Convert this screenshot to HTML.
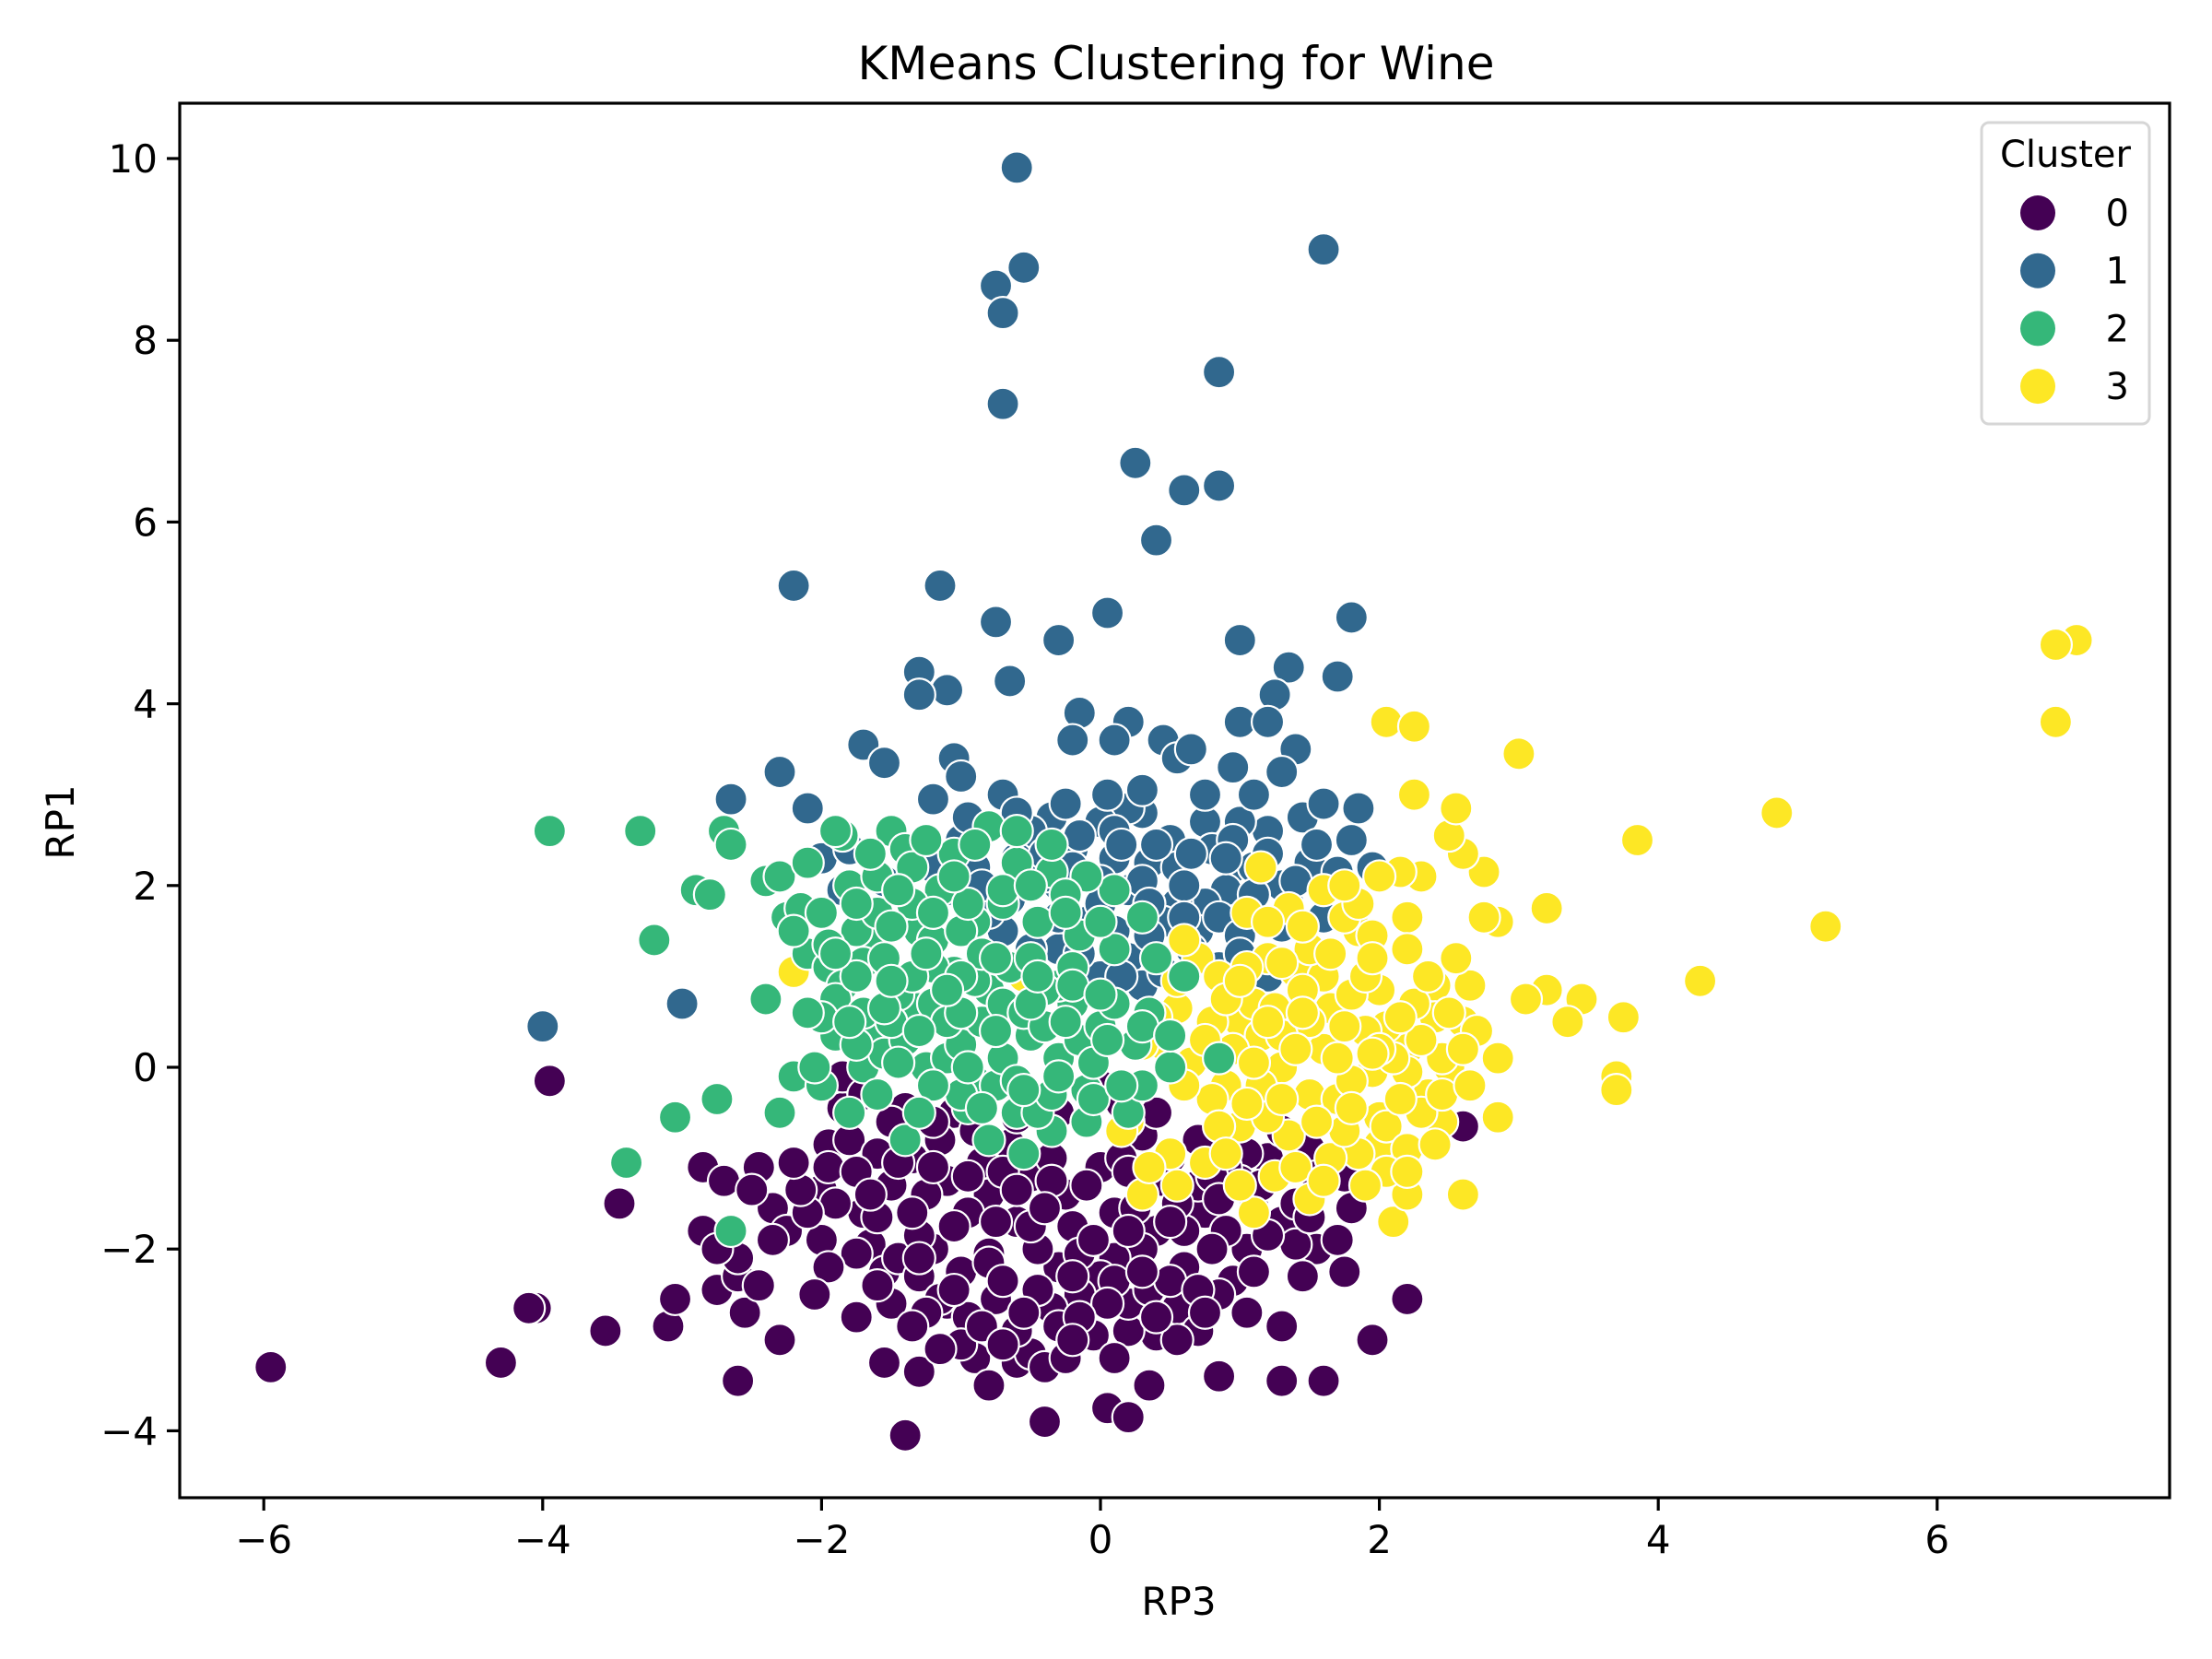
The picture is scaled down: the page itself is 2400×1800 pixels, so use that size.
<!DOCTYPE html>
<html><head><meta charset="utf-8"><style>
html,body{margin:0;padding:0;background:#fff;}
svg{display:block;font-family:"DejaVu Sans","Liberation Sans",sans-serif;}
</style></head><body>
<svg id="chart" width="2400" height="1800" viewBox="0 0 2400 1800">
<rect x="0" y="0" width="2400" height="1800" fill="#fff"/>
<text x="1276" y="86" font-size="50" text-anchor="middle">KMeans Clustering for Wine</text>
<g id="marks"></g>
<g id="axes"></g>
<text x="1279" y="1752" font-size="42" text-anchor="middle">RP3</text>
<text x="0" y="0" font-size="42" text-anchor="middle" transform="translate(80,892) rotate(-90)">RP1</text>
<g id="legend"></g>
</svg>
<script>
const xTicks=[-6,-4,-2,0,2,4,6];
const yTicks=[-4,-2,0,2,4,6,8,10];
const clusterNames=["0","1","2","3"];
const clusterColors=["#440154","#31688e","#35b779","#fde725"];
const cluster0=[[-5.95,-3.3],[-4.3,-3.25],[-4.05,-2.65],[-4.1,-2.65],[-3.55,-2.9],[-3.45,-1.5],[-3.95,-0.15],[-3.1,-2.85],[-3.05,-2.55],[-2.75,-2.45],[-2.6,-3.45],[-2.55,-2.7],[-2.3,-3.0],[-2.6,-2.3],[-2.6,-2.1],[-2.85,-1.8],[-2.85,-1.1],[-2.7,-1.25],[-2.45,-1.1],[-2.35,-1.55],[-2.25,-1.8],[-2.0,-1.9],[-2.0,-1.35],[-1.95,-0.85],[-1.85,-0.45],[-1.85,-0.1],[-1.8,-0.8],[-1.7,-1.6],[-1.65,-1.95],[-1.55,-2.25],[-1.55,-3.25],[-1.3,-3.35],[-1.4,-4.05],[-1.45,-2.1],[-1.3,-2.3],[-1.2,-2.0],[-1.1,-2.6],[-1.15,-2.55],[-0.95,-2.75],[-0.9,-3.2],[-0.8,-3.5],[-0.6,-3.25],[-0.5,-3.15],[-0.4,-3.3],[-0.25,-3.2],[-0.4,-3.9],[0.05,-3.75],[0.2,-3.85],[0.35,-3.5],[0.4,-2.95],[0.2,-2.9],[0.2,-2.6],[0.55,-2.65],[0.85,-3.4],[1.3,-3.45],[1.6,-3.45],[1.95,-3.0],[2.2,-2.55],[1.3,-2.85],[0.95,-2.35],[0.85,-2.5],[0.7,-2.9],[1.75,-2.25],[1.05,-2.0],[1.3,-1.7],[1.55,-2.0],[1.8,-1.55],[1.75,-1.2],[1.4,-1.5],[1.2,-1.0],[1.05,-0.95],[1.0,-1.25],[0.9,-1.1],[0.75,-1.6],[0.6,-1.8],[0.4,-1.8],[0.6,-2.2],[0.3,-2.0],[0.1,-2.1],[0.0,-2.3],[-0.15,-2.5],[-0.3,-2.2],[-0.45,-2.0],[-0.6,-1.7],[-0.8,-1.4],[-0.95,-1.6],[-1.1,-1.25],[-1.25,-1.4],[-1.35,-1.0],[-1.5,-1.3],[-1.6,-0.95],[-1.4,-0.45],[-1.05,-0.5],[-0.85,-1.05],[-0.5,-1.2],[-0.25,-1.4],[0.0,-1.1],[0.3,-1.3],[0.5,-1.0],[0.0,-0.2],[-0.1,-0.6],[0.3,-0.75],[0.45,-1.25],[-0.2,-1.75],[-0.5,-1.75],[-0.8,-2.05],[-1.0,-2.25],[-1.3,-1.85],[-1.6,-1.65],[-1.9,-1.5],[-2.1,-1.6],[-1.75,-2.05],[-1.25,-2.7],[-0.75,-2.55],[-0.35,-2.65],[-0.05,-2.95],[0.35,-2.45],[0.5,-2.35],[0.9,-1.8],[1.1,-1.55],[1.5,-0.9],[1.7,-1.9],[2.6,-0.65],[-0.6,-2.9],[-0.8,-2.15],[0.1,-1.6],[-0.65,-0.85],[-1.15,-0.8],[0.15,-1.0],[0.7,-1.3],[-0.35,-1.0],[-1.5,-2.6],[-0.15,-2.05],[0.25,-1.55],[-0.7,-1.15],[-1.95,-1.1],[-2.15,-1.35],[-1.0,-3.05],[-0.3,-2.85],[0.55,-3.0],[0.1,-2.35],[1.4,-1.95],[0.8,-1.2],
[-1.7,-0.3],[-1.5,-0.6],[-1.2,-0.6],[-0.9,-0.7],[-0.6,-0.55],[-0.3,-0.5],[0.15,-0.4],[0.4,-0.5],[0.7,-0.8],[1.3,-0.7],[-1.75,-1.15],[-1.45,-1.05],[-1.2,-1.1],[-0.95,-1.2],[-0.6,-1.35],[-0.35,-1.25],[-0.1,-1.3],[0.2,-1.15],[0.55,-1.5],[0.85,-1.45],[1.15,-1.3],[1.55,-1.2],[-2.2,-1.05],[-1.65,-1.4],[-1.35,-1.6],[-1.05,-1.75],[-0.75,-1.7],[-0.4,-1.55],[-0.05,-1.9],[0.2,-1.8],[0.5,-1.7],[0.8,-2.0],[1.2,-1.85],[1.5,-1.65],[-2.35,-1.9],[-1.95,-2.2],[-1.6,-2.4],[-1.3,-2.1],[-1.05,-2.45],[-0.7,-2.35],[-0.45,-2.45],[-0.2,-2.3],[0.05,-2.6],[0.3,-2.25],[0.7,-2.45],[1.1,-2.25],[1.45,-2.3],[-1.75,-2.75],[-1.35,-2.85],[-0.85,-2.85],[-0.55,-2.7],[-0.15,-2.75],[0.4,-2.75],[0.75,-2.7],[1.05,-2.7],[-0.7,-3.05],[-0.2,-3.0],[0.1,-3.2],[-1.15,-3.1],[-2.45,-2.4],[-2.75,-2.0],[-2.5,-1.35],[-2.05,-2.5]];
const cluster1=[[-0.6,9.9],[-0.55,8.8],[-0.75,8.6],[-0.7,8.3],[1.6,9.0],[0.85,7.65],[-0.7,7.3],[0.25,6.65],[0.6,6.35],[0.85,6.4],[0.4,5.8],[-2.2,5.3],[-1.15,5.3],[0.05,5.0],[1.8,4.95],[-0.75,4.9],[-0.3,4.7],[1.0,4.7],[1.35,4.4],[1.7,4.3],[-1.3,4.35],[-1.1,4.15],[-1.3,4.1],[-0.65,4.25],[1.25,4.1],[-0.15,3.9],[0.2,3.8],[0.1,3.6],[-0.2,3.6],[0.45,3.6],[0.55,3.4],[1.0,3.8],[1.2,3.8],[1.4,3.5],[1.3,3.25],[0.95,3.3],[0.65,3.5],[-1.7,3.55],[-1.55,3.35],[-1.05,3.4],[-1.0,3.2],[-0.7,3.0],[-1.2,2.95],[-2.65,2.95],[-2.3,3.25],[-2.1,2.85],[-2.0,2.3],[-1.8,2.4],[-1.85,1.95],[-4.0,0.45],[-3.0,0.7],[1.85,2.85],[1.95,2.2],[1.8,2.5],[1.5,2.25],[1.45,2.75],[1.2,2.6],[1.0,2.7],[0.75,2.7],[0.5,2.5],[0.3,2.8],[0.2,2.85],[0.0,2.7],[-0.35,2.75],[-0.5,2.6],[-0.2,2.4],[0.1,2.3],[0.35,2.25],[0.55,2.2],[0.95,2.2],[1.1,2.2],[0.9,1.95],[0.75,1.8],[0.55,1.8],[0.2,1.95],[0.0,2.05],[-0.3,2.0],[-0.65,1.85],[-0.1,1.6],[0.2,1.2],[0.0,1.0],[-0.7,1.5],[-0.3,1.3],[0.45,1.6],[0.7,1.5],[0.85,1.1],[1.35,1.8],[1.6,1.65],[1.2,1.0],[-1.3,2.3],[-1.0,2.5],[-0.9,2.2],[-1.55,2.05],[-1.2,2.2],[-0.2,2.2],[0.3,2.05],[0.6,2.0],[1.3,2.0],[0.8,2.4],[0.1,2.6],[0.95,2.5],[-0.6,2.3],[-0.4,2.1],[-0.8,1.7],[-0.5,1.3],[0.3,0.9],
[-0.4,2.35],[-0.15,2.55],[0.15,2.45],[0.4,2.45],[0.65,2.35],[0.9,2.3],[1.2,2.35],[1.55,2.45],[1.7,2.15],[1.4,2.05],[1.1,1.9],[0.85,1.65],[0.6,1.65],[0.35,1.45],[0.1,1.5],[-0.15,1.25],[0.0,1.8],[0.35,1.8],[0.65,1.3],[1.0,1.45],[1.3,1.55],[-0.6,2.05],[-0.85,2.0],[-1.1,1.95],[-0.95,2.75],[-0.6,2.8],[-0.25,2.9],[0.05,3.0],[0.3,3.05],[0.75,3.0],[1.1,3.0],[1.6,2.9],[1.0,1.25],[0.45,1.05],[-0.3,1.65],[0.15,1.0]];
const cluster2=[[-3.95,2.6],[-3.3,2.6],[-2.9,1.95],[-2.8,1.9],[-3.2,1.4],[-2.7,2.6],[-2.65,2.45],[-2.4,2.05],[-2.3,2.1],[-2.25,1.65],[-2.15,1.75],[-2.1,1.25],[-1.95,1.1],[-2.4,0.75],[-2.75,-0.35],[-3.05,-0.55],[-3.4,-1.05],[-2.3,-0.5],[-2.2,-0.1],[-2.65,-1.8],[-1.85,2.55],[-1.9,2.6],[-1.5,2.6],[-1.4,2.4],[-1.15,1.95],[-1.3,1.5],[-1.6,1.4],[-1.7,1.15],[-1.85,0.9],[-1.9,0.75],[-1.9,0.35],[-1.7,0.0],[-1.6,0.35],[-1.55,0.15],[-1.4,0.3],[-1.25,0.0],[-1.1,0.1],[-1.0,0.25],[-0.85,0.5],[-0.9,-0.15],[-0.95,-0.45],[-0.75,-0.2],[-0.6,-0.5],[-0.35,-0.7],[-0.45,-0.5],[-0.1,-0.6],[0.2,-0.5],[0.5,0.0],[0.6,1.0],[-0.2,0.7],[-0.3,0.9],[-0.15,1.45],[0.1,1.95],[-0.8,2.65],[-0.6,2.25],[-0.7,1.8],[-0.9,1.6],[-1.05,1.05],[-0.8,0.85],[-0.7,0.7],[-0.5,0.35],[-0.3,0.1],[-0.15,0.3],[0.0,0.45],[0.25,0.25],[-0.65,1.1],[-0.4,0.85],[-1.2,1.4],[-1.3,0.65],[-1.2,0.7],[-1.45,0.8],[-1.55,1.2],[-1.75,1.5],[-1.6,1.7],[-1.8,2.0],[-1.35,2.2],[-1.05,2.35],[-0.9,2.45],[-0.35,2.15],[-0.1,2.1],[-0.25,1.9],[-0.45,1.6],[-1.4,-0.8],[-0.8,-0.8],[-0.55,-0.95],[0.85,0.1],[-1.2,1.1],[-1.0,1.5],[-1.7,0.6],[-1.1,0.5],[-0.9,0.95],[-0.55,0.6],[-1.35,1.8],[-2.0,-0.2],[-1.8,-0.5],[-0.2,1.1],[-0.5,1.2],[-0.4,0.45],[-0.7,0.1],[-1.5,0.5],[-1.0,-0.3],[0.1,0.7],[0.35,0.6],[-0.1,-0.25],[-1.6,2.1],[-2.0,0.55],[-1.35,1.0],[-0.85,1.25],[-0.05,0.05],
[-2.05,0.0],[-1.75,0.25],[-1.45,0.05],[-1.2,-0.2],[-0.95,0.0],[-0.6,-0.15],[-0.35,-0.3],[-0.05,-0.35],[0.3,-0.2],[-2.1,0.6],[-1.8,0.5],[-1.55,0.65],[-1.3,0.4],[-1.0,0.6],[-0.75,0.4],[-0.5,0.7],[-0.25,0.5],[0.05,0.3],[0.3,0.45],[0.5,0.35],[-2.2,1.5],[-1.95,1.35],[-1.75,1.0],[-1.5,0.95],[-1.25,1.25],[-1.0,1.0],[-0.75,1.2],[-0.45,1.0],[-0.2,0.9],[0.1,1.3],[0.4,1.2],[-2.0,1.7],[-1.75,1.8],[-1.5,1.55],[-1.2,1.7],[-0.95,1.8],[-0.7,1.95],[-0.5,2.0],[-0.25,1.7],[0.0,1.6],[0.3,1.65],[-1.65,2.35],[-1.25,2.5],[-1.05,2.1],[-0.6,2.6],[-0.35,2.45],[-2.1,2.25],[-1.45,1.95],[-0.3,-0.1],[-0.85,-0.45],[-1.6,-0.3],[-1.3,-0.5],[0.15,-0.2],[-0.55,-0.25],[0.0,0.8],[-1.1,0.85],[-1.9,1.25]];
const cluster3=[[7.0,4.7],[6.85,4.65],[6.85,3.8],[5.2,1.55],[4.85,2.8],[4.3,0.95],[3.85,2.5],[3.0,3.45],[3.2,1.75],[3.75,0.55],[3.7,-0.1],[3.7,-0.25],[3.45,0.75],[3.35,0.5],[3.2,0.85],[3.05,0.75],[2.85,0.1],[2.85,-0.55],[2.85,1.6],[2.75,1.65],[2.75,2.15],[2.6,2.35],[2.5,2.55],[2.55,2.85],[2.25,3.0],[2.05,3.8],[2.25,3.75],[2.3,2.1],[2.2,1.65],[2.15,2.15],[2.6,-1.4],[2.1,-1.7],[2.2,-1.4],[2.45,-0.6],[2.6,0.5],[2.5,0.0],[2.35,-0.3],[2.2,0.2],[2.0,0.85],[1.85,1.5],[1.6,1.95],[1.35,1.75],[1.15,2.2],[1.05,1.7],[1.2,1.2],[1.4,1.05],[1.65,0.65],[1.8,0.8],[2.05,0.45],[1.95,-0.05],[2.0,-0.55],[2.0,-0.85],[1.85,-0.95],[1.65,-1.0],[1.5,-1.45],[1.25,-1.2],[1.1,-1.6],[1.0,-0.65],[0.9,-0.2],[0.8,-0.35],[0.65,0.05],[0.45,0.25],[0.3,0.25],[0.55,0.65],[0.7,1.2],[0.85,1.0],[1.0,0.5],[1.15,0.35],[1.3,0.0],[1.5,-0.3],[1.6,0.2],[1.7,-0.35],[1.8,-0.15],[2.05,-0.65],[2.2,-0.05],[1.35,-0.75],[1.2,-0.55],[0.95,0.2],[1.1,0.7],[1.25,0.65],[1.5,0.5],[1.6,1.0],[1.9,0.4],[1.75,1.65],[1.95,1.45],[2.4,0.9],[2.7,0.4],[2.65,0.9],[2.4,0.55],[2.25,0.7],[1.5,1.3],[0.2,-0.6],[0.55,-1.3],[0.3,-1.4],[0.15,-0.7],[2.2,-0.9],[2.05,-1.15],[1.75,-0.7],[1.45,0.85],[1.15,-0.2],[0.8,0.5],[2.1,0.1],[2.3,-0.5],[1.05,1.1],[0.6,1.4],[-0.55,1.0],[-0.75,0.7],[-2.2,1.05],[2.45,0.1],[1.9,1.0],[1.3,0.35],[2.0,0.2],
[0.6,-0.2],[0.85,-0.65],[1.05,-0.4],[1.3,-0.35],[1.55,-0.6],[1.8,-0.45],[2.15,-0.35],[2.45,-0.3],[2.6,0.2],[0.75,0.3],[1.1,0.05],[1.4,0.2],[1.7,0.1],[1.95,0.15],[2.3,0.3],[2.5,0.6],[0.9,0.75],[1.2,0.5],[1.45,0.6],[1.75,0.45],[2.15,0.55],[2.35,1.0],[2.55,1.2],[1.0,0.95],[1.3,1.15],[1.65,1.25],[1.95,1.2],[2.2,1.3],[1.45,1.55],[1.2,1.6],[0.75,-1.05],[1.0,-1.3],[1.4,-1.1],[1.6,-1.25],[1.9,-1.3],[2.2,-1.15],[0.9,-0.95],[0.5,-0.95],[0.35,-1.1],[2.4,-0.85],[2.65,-0.2],[1.85,1.8],[2.0,2.1],[1.75,2.0],[0.55,0.95],[0.4,0.55]];

const NS="http://www.w3.org/2000/svg";
const L=195,R=2354,T=112,B=1625;
function sx(v){return 1194+v*151.3;}
function sy(v){return 1158-v*98.6;}
function mk(tag,attrs,parent){const e=document.createElementNS(NS,tag);for(const k in attrs)e.setAttribute(k,attrs[k]);parent.appendChild(e);return e;}

const marks=document.getElementById('marks');
const clusters=[cluster0,cluster1,cluster3,cluster2];
const clusterIdx=[0,1,3,2];
clusters.forEach((pts,ci)=>{
  const k=clusterIdx[ci];
  const g=mk('g',{},marks);
  
  
  pts.forEach(p=>{
    const c=mk('circle',{cx:sx(p[0]),cy:sy(p[1]),r:17.5,fill:clusterColors[k],stroke:'#fff','stroke-width':2.2},g);
    
    
  });
});

const axes=document.getElementById('axes');
const frame=mk('rect',{x:L,y:T,width:R-L,height:B-T,fill:'none',stroke:'#000','stroke-width':3.2},axes);


xTicks.forEach(v=>{
  const x=sx(v);
  const t=mk('line',{x1:x,y1:B,x2:x,y2:B+14,stroke:'#000','stroke-width':3.2},axes);
  
  
  const lb=mk('text',{x:x,y:B+60,'font-size':42,'text-anchor':'middle'},axes);
  lb.textContent=(v<0?'\u2212'+(-v):String(v));
  
  
});
yTicks.forEach(v=>{
  const y=sy(v);
  const t=mk('line',{x1:L-14,y1:y,x2:L,y2:y,stroke:'#000','stroke-width':3.2},axes);
  
  
  const lb=mk('text',{x:L-24,y:y+15,'font-size':42,'text-anchor':'end'},axes);
  lb.textContent=(v<0?'\u2212'+(-v):String(v));
  
  
});

const lg=document.getElementById('legend');
const box=mk('rect',{x:2150,y:133,width:182,height:327,rx:8,fill:'#fff','fill-opacity':0.8,stroke:'#d6d6d6','stroke-width':3},lg);


const lt=mk('text',{x:2241,y:181,'font-size':40,'text-anchor':'middle'},lg);
lt.textContent='Cluster';


clusterNames.forEach((n,i)=>{
  const y=231+i*62.7;
  const g=mk('g',{},lg);
  
  
  const c=mk('circle',{cx:2211,cy:y,r:19,fill:clusterColors[i]},g);
  
  
  const t=mk('text',{x:2310,y:y+14,'font-size':40,'text-anchor':'end'},g);
  t.textContent=n;
  
  
});
</script>
</body></html>
